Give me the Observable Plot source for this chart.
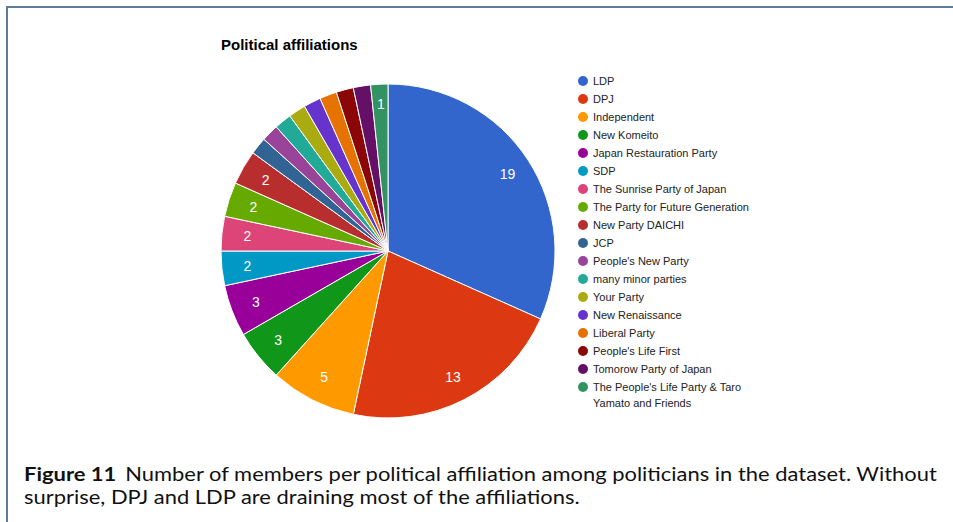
<!DOCTYPE html>
<html>
<head>
<meta charset="utf-8">
<script src="https://cdn.jsdelivr.net/npm/d3@7"></script>
<script src="https://cdn.jsdelivr.net/npm/@observablehq/plot@0.6"></script>
<style>
  html, body { margin: 0; padding: 0; background: #fff; }
  #frame { position: absolute; left: 6px; top: 6px; width: 1000px; height: 600px;
           border-top: 2px solid #5f7d9b; border-left: 2px solid #5f7d9b; box-sizing: border-box; }
  #title { position: absolute; left: 221px; top: 36px; font: bold 15px Arial, "Liberation Sans", sans-serif; color: #000; }
  #chart { position: absolute; left: 0; top: 0; }
  #legend { position: absolute; left: 577px; top: 73px; font: 11px Arial, "Liberation Sans", sans-serif; color: #222; }
  .li { position: relative; height: 18px; line-height: 16px; padding-left: 16px; width: 200px; }
  .li .sw { position: absolute; left: 1px; top: 3px; width: 10px; height: 10px; border-radius: 50%; }
  #caption { position: absolute; left: 24px; top: 462px; font: 19.5px Lato, "Open Sans", sans-serif; line-height: 23px; color: #111; }
  #caption .line { display: block; white-space: nowrap; transform-origin: 0 0; }
  #caption b { margin-right: 8px; }
</style>
</head>
<body>
<div id="frame"></div>
<div id="chart"></div>
<div id="title">Political affiliations</div>
<div id="legend"></div>
<div id="caption"><span class="line" id="cap1"><b>Figure 11</b>Number of members per political affiliation among politicians in the dataset. Without</span><span class="line" id="cap2">surprise, DPJ and LDP are draining most of the affiliations.</span></div>
<script>
const parties = ["LDP", "DPJ", "Independent", "New Komeito", "Japan Restauration Party", "SDP",
  "The Sunrise Party of Japan", "The Party for Future Generation", "New Party DAICHI", "JCP",
  "People's New Party", "many minor parties", "Your Party", "New Renaissance", "Liberal Party",
  "People's Life First", "Tomorow Party of Japan", "The People's Life Party & Taro Yamato and Friends"];
const members = [19, 13, 5, 3, 3, 2, 2, 2, 2, 1, 1, 1, 1, 1, 1, 1, 1, 1];
const sliceLabels = ["19", "13", "5", "3", "3", "2", "2", "2", "2", "", "", "", "", "", "", "", "", "1"];
const colors = ["#3366cc", "#dc3912", "#ff9900", "#109618", "#990099", "#0099c6", "#dd4477", "#66aa00",
  "#b82e2e", "#316395", "#994499", "#22aa99", "#aaaa11", "#6633cc", "#e67300", "#8b0707", "#651067", "#329262"];

const data = parties.map((p, i) => ({party: p, value: members[i], label: sliceLabels[i]}));
const arcs = d3.pie().sort(null).value(d => d.value)(data);
arcs.forEach(a => {
  const m = (a.startAngle + a.endAngle) / 2;
  const f = a.data.value > 1 ? 0.85 : 0.88;
  a.data.lx = Math.sin(m) * f;
  a.data.ly = Math.cos(m) * f;
});

function pieMark(index, scales, values, dimensions, context) {
  const cx = scales.x(0), cy = scales.y(0);
  const r = scales.x(1) - scales.x(0);
  const arcGen = d3.arc().innerRadius(0).outerRadius(r);
  const g = d3.create("svg:g").attr("transform", `translate(${cx},${cy})`);
  g.selectAll("path").data(arcs).join("path")
    .attr("d", arcGen)
    .attr("fill", a => scales.color(a.data.party))
    .attr("stroke", "#fff")
    .attr("stroke-width", 1);
  return g.node();
}

const plot = Plot.plot({
  width: 953,
  height: 440,
  marginLeft: 221,
  marginRight: 953 - 555,
  marginTop: 84,
  marginBottom: 440 - 418,
  x: {domain: [-1, 1], axis: null},
  y: {domain: [-1, 1], axis: null},
  color: {domain: parties, range: colors},
  style: {background: "transparent", overflow: "visible"},
  marks: [
    pieMark,
    Plot.text(data.filter(d => d.label !== ""), {
      x: "lx", y: "ly", text: "label", fill: "#fff",
      fontSize: 14, fontFamily: "Arial, 'Liberation Sans', sans-serif"
    })
  ]
});
document.getElementById("chart").appendChild(plot);

const legend = d3.select("#legend");
parties.forEach((p, i) => {
  const row = legend.append("div").attr("class", "li");
  row.append("span").attr("class", "sw").style("background", colors[i]);
  row.append("span").text(p);
});
d3.select("#legend").selectAll(".li").filter((d, i) => i === parties.length - 1).style("width", "165px");

// fit caption lines to the reference widths
const cap1 = document.getElementById("cap1"), cap2 = document.getElementById("cap2");
const w1 = cap1.scrollWidth;
const s = 913 / w1;
cap1.style.transform = `scaleX(${s})`;
cap2.style.transform = `scaleX(${s})`;
</script>
</body>
</html>
